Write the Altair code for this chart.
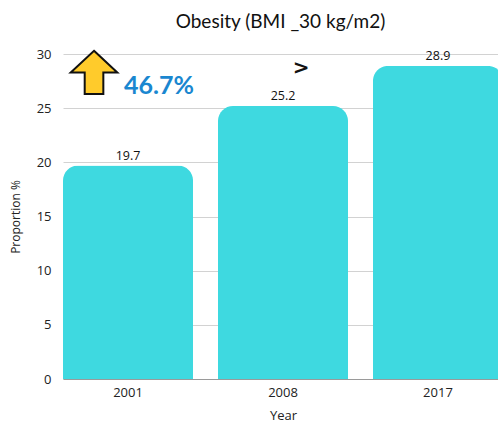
import altair as alt
import pandas as pd

# Obesity prevalence by survey year
years = ["2001", "2008", "2017"]
proportions = [19.7, 25.2, 28.9]

increase = (proportions[-1] - proportions[0]) / proportions[0] * 100

bars_df = pd.DataFrame({"Year": years, "Proportion": proportions})

BAR_COLOR = "#3ED9E0"
FONT = "Open Sans"

x_enc = alt.X(
    "Year:N",
    title="Year",
    sort=years,
    scale=alt.Scale(range=[0, 440], paddingInner=0.161, paddingOuter=0),
    axis=alt.Axis(
        labelAngle=0, ticks=False, domainColor="#9a9a9a", labelPadding=7,
        titlePadding=10, labelFontSize=13, titleFontSize=13, labelFont=FONT,
        titleFont=FONT, labelColor="#222", titleColor="#222", titleFontWeight="normal",
    ),
)

y_enc = alt.Y(
    "Proportion:Q",
    title="Proportion %",
    scale=alt.Scale(domain=[0, 30], nice=False),
    axis=alt.Axis(
        values=[0, 5, 10, 15, 20, 25, 30], ticks=False, domain=False,
        labelPadding=12, titlePadding=14, labelFontSize=13, titleFontSize=12,
        labelFont=FONT, titleFont=FONT, labelColor="#222", titleColor="#222",
        titleFontWeight="normal", gridColor="#d2d2d2",
    ),
)

base = alt.Chart(bars_df)

bars = base.mark_bar(
    color=BAR_COLOR, cornerRadiusTopLeft=15, cornerRadiusTopRight=15
).encode(x=x_enc, y=y_enc)

values = base.mark_text(
    baseline="bottom", dy=-3, fontSize=12.5, font=FONT, color="#111"
).encode(x=alt.X("Year:N", sort=years), y="Proportion:Q", text=alt.Text("Proportion:Q", format=".1f"))

# Annotation: increase from first to last survey
note_df = pd.DataFrame({
    "Year": [years[0]],
    "Proportion": [28.3],
    "TextLevel": [27.05],
    "Label": [f"{increase:.1f}%"],
})
note = alt.Chart(note_df)

arrow = note.mark_point(
    shape="M0,-0.93 L1,0 L0.4,0 L0.4,0.93 L-0.4,0.93 L-0.4,0 L-1,0 Z",
    filled=True, fill="#FFCB2B", stroke="#111", strokeWidth=2, opacity=1,
    size=2170, xOffset=-34,
).encode(x=alt.X("Year:N", sort=years), y="Proportion:Q")

pct = note.mark_text(
    align="left", baseline="middle", dx=-4, fontSize=25, fontWeight="bold",
    font="Lato", color="#1A87D0",
).encode(x=alt.X("Year:N", sort=years), y="TextLevel:Q", text="Label:N")

gt_df = pd.DataFrame({"Year": [years[1]], "Level": [28.7], "Sym": [">"]})
gt = alt.Chart(gt_df).mark_text(
    align="center", baseline="middle", dx=18, fontSize=20, fontWeight="bold",
    font="DejaVu Sans", color="#111",
).encode(x=alt.X("Year:N", sort=years), y="Level:Q", text="Sym:N")

chart = alt.layer(bars, values, arrow, pct, gt).properties(
    width=435,
    height=325,
    title=alt.TitleParams(
        "Obesity (BMI _30 kg/m2)", fontSize=19, font="Lato", fontWeight="normal",
        color="#111", offset=15, anchor="middle",
    ),
    autosize=alt.AutoSizeParams(type="none"),
    padding={"left": 63, "top": 54, "right": 0, "bottom": 43},
).configure_view(stroke=None)

chart.save("out.html", embed_options={"renderer": "svg", "actions": False})
